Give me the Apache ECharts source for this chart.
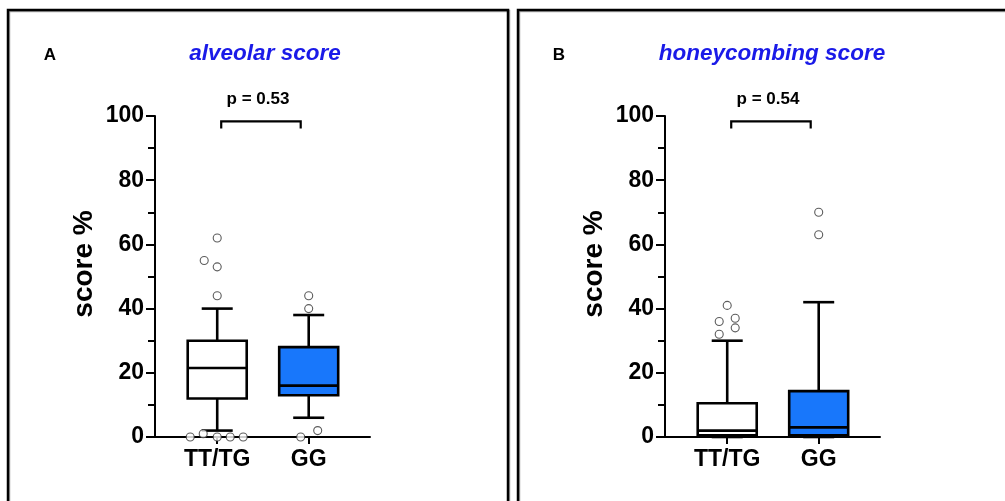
<!DOCTYPE html>
<html><head><meta charset="utf-8">
<script src="https://cdn.jsdelivr.net/npm/echarts@6/dist/echarts.min.js"></script>
<style>html,body{margin:0;padding:0;background:#fff}#c{width:1005px;height:501px}</style>
</head><body><div id="c"></div>
<script>
// ---- data ----
var categories = ['TT/TG', 'GG'];
var yTicks = [0, 20, 40, 60, 80, 100];
// [min, Q1, median, Q3, max]
var alveolarTT = [2, 12, 21.5, 30, 40];
var alveolarGG = [6, 13, 16, 28, 38];
var honeyTT = [0, 0.5, 2, 10.5, 30];
var honeyGG = [0, 0.5, 3, 14.3, 42];
var alveolarOutTT = [62, 55, 53, 44, 0, 1, 0, 0, 0];
var alveolarOutGG = [44, 40, 0, 2];
var honeyOutTT = [41, 36, 37, 34, 32];
var honeyOutGG = [70, 63];
var pValues = ['p = 0.53', 'p = 0.54'];
var titles = ['alveolar score', 'honeycombing score'];
var panelLetters = ['A', 'B'];
var yAxisTitle = 'score %';

// ---- style (pixel jitter of outlier symbols) ----
var jitAlvTT = [0, -13, 0, 0, -27, -14, 0, 13, 26];
var jitAlvGG = [0, 0, -8, 9];
var jitHonTT = [0, -8, 8, 8, -8];
var jitHonGG = [0, 0];

var BLUE = '#1877fb';
var FONT = '"Liberation Sans", Arial, sans-serif';

function boxSeries(idx, stats) {
  var data = stats.map(function (s, i) { return [i].concat(s); });
  return {
    type: 'custom', xAxisIndex: idx, yAxisIndex: idx, data: data, z: 3,
    encode: { x: 0, y: [1, 2, 3, 4, 5] },
    renderItem: function (params, api) {
      var i = api.value(0);
      var c = function (v) { return api.coord([i, v]); };
      var pMin = c(api.value(1)), pQ1 = c(api.value(2)), pMed = c(api.value(3)),
          pQ3 = c(api.value(4)), pMax = c(api.value(5));
      var x = pMin[0], hw = 29.5, cw = 15.5;
      var ls = { stroke: '#000', lineWidth: 2.6 };
      var fill = i === 0 ? '#fff' : BLUE;
      return { type: 'group', children: [
        { type: 'line', shape: { x1: x, y1: pQ3[1], x2: x, y2: pMax[1] }, style: ls },
        { type: 'line', shape: { x1: x, y1: pQ1[1], x2: x, y2: pMin[1] }, style: ls },
        { type: 'line', shape: { x1: x - cw, y1: pMax[1], x2: x + cw, y2: pMax[1] }, style: ls },
        { type: 'line', shape: { x1: x - cw, y1: pMin[1], x2: x + cw, y2: pMin[1] }, style: ls },
        { type: 'rect', shape: { x: x - hw, y: pQ3[1], width: 2 * hw, height: pQ1[1] - pQ3[1] },
          style: { fill: fill, stroke: '#000', lineWidth: 2.6 } },
        { type: 'line', shape: { x1: x - hw, y1: pMed[1], x2: x + hw, y2: pMed[1] }, style: ls }
      ]};
    }
  };
}
function outSeries(idx, cat, vals, jit) {
  return {
    type: 'scatter', xAxisIndex: idx, yAxisIndex: idx, z: 4,
    symbol: 'circle', symbolSize: 8,
    itemStyle: { color: '#fff', borderColor: '#333', borderWidth: 1.1 },
    data: vals.map(function (v, k) { return { value: [cat, v], symbolOffset: [jit[k], 0] }; })
  };
}
function bracketSeries(idx) {
  return {
    type: 'custom', xAxisIndex: idx, yAxisIndex: idx, data: [[0, 1, 98.3]], z: 5,
    renderItem: function (params, api) {
      var a = api.coord([api.value(0), api.value(2)]);
      var b = api.coord([api.value(1), api.value(2)]);
      var x1 = a[0] + 4, x2 = b[0] - 8, y = a[1], d = 7;
      return { type: 'polyline', shape: { points: [[x1, y + d], [x1, y], [x2, y], [x2, y + d]] },
        style: { stroke: '#000', lineWidth: 2.2, fill: null } };
    }
  };
}

var lefts = [155, 665];
var grids = lefts.map(function (l) { return { left: l, top: 116, width: 215, height: 321 }; });
var xAxes = [0, 1].map(function (i) {
  return {
    type: 'value', gridIndex: i, min: -0.68, max: 1.67,
    axisLine: { onZero: false, lineStyle: { color: '#000', width: 2 } },
    axisTick: { show: true, customValues: [0, 1], inside: false, length: 7, lineStyle: { color: '#000', width: 2 } },
    axisLabel: { customValues: [0, 1], formatter: function (v) { return categories[Math.round(v)]; },
      color: '#000', fontWeight: 'bold', fontSize: 23, fontFamily: FONT, margin: 11 },
    splitLine: { show: false }
  };
});
var yAxes = [0, 1].map(function (i) {
  return {
    type: 'value', gridIndex: i, min: 0, max: 100, interval: 20,
    axisLine: { show: true, onZero: false, lineStyle: { color: '#000', width: 2 } },
    axisTick: { show: true, length: 9, lineStyle: { color: '#000', width: 2 } },
    minorTick: { show: true, splitNumber: 2, length: 7, lineStyle: { color: '#000', width: 2 } },
    axisLabel: { color: '#000', fontWeight: 'bold', fontSize: 23, fontFamily: FONT, margin: 11,
      formatter: function (v) { return yTicks.indexOf(v) >= 0 ? String(v) : ''; } },
    splitLine: { show: false }
  };
});

var frameStyle = { fill: null, stroke: '#000', lineWidth: 2.5, shadowColor: 'rgba(0,0,0,0.35)', shadowOffsetX: 1, shadowOffsetY: 1, shadowBlur: 0 };
var graphics = [
  { type: 'rect', shape: { x: 8, y: 10, width: 500, height: 520 }, style: frameStyle, silent: true },
  { type: 'rect', shape: { x: 518, y: 10, width: 520, height: 520 }, style: frameStyle, silent: true }
];
var letterX = [50, 559], titleX = [265, 772], pX = [258, 768], nameX = [84, 594];
for (var i = 0; i < 2; i++) {
  graphics.push({ type: 'text', x: letterX[i], y: 55, style: { text: panelLetters[i], fill: '#000',
    font: 'bold 17px ' + FONT, textAlign: 'center', textVerticalAlign: 'middle' } });
  graphics.push({ type: 'text', x: titleX[i], y: 54, style: { text: titles[i], fill: '#1a1ae8',
    font: 'italic bold 22.5px ' + FONT, textAlign: 'center', textVerticalAlign: 'middle' } });
  graphics.push({ type: 'text', x: pX[i], y: 99, style: { text: pValues[i], fill: '#000',
    font: 'bold 17px ' + FONT, textAlign: 'center', textVerticalAlign: 'middle' } });
  graphics.push({ type: 'text', x: nameX[i], y: 264, rotation: Math.PI / 2, style: { text: yAxisTitle, fill: '#000',
    font: 'bold 28px ' + FONT, textAlign: 'center', textVerticalAlign: 'middle' } });
}

var chart = echarts.init(document.getElementById('c'), null, { renderer: 'canvas' });
chart.setOption({
  animation: false,
  backgroundColor: '#fff',
  grid: grids, xAxis: xAxes, yAxis: yAxes,
  graphic: graphics,
  series: [
    boxSeries(0, [alveolarTT, alveolarGG]),
    boxSeries(1, [honeyTT, honeyGG]),
    outSeries(0, 0, alveolarOutTT, jitAlvTT),
    outSeries(0, 1, alveolarOutGG, jitAlvGG),
    outSeries(1, 0, honeyOutTT, jitHonTT),
    outSeries(1, 1, honeyOutGG, jitHonGG),
    bracketSeries(0), bracketSeries(1)
  ]
});
</script></body></html>
